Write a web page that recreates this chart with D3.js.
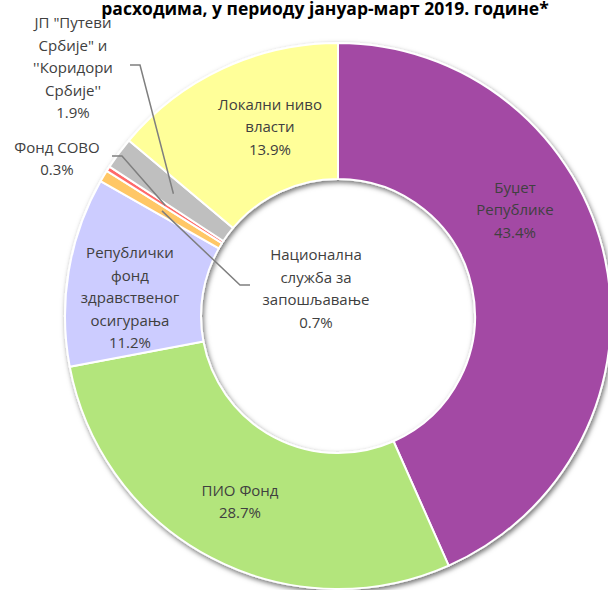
<!DOCTYPE html>
<html lang="sr">
<head>
<meta charset="utf-8">
<style>
  body { margin: 0; background: #fff; }
  svg { font-family: 'Open Sans', sans-serif; }
  .lbl { fill: #404040; font-size: 15px; }
  .title { fill: #000; font-size: 17.5px; font-weight: bold; }
  .leader { fill: none; stroke: #7f7f7f; stroke-width: 1.5px; }
</style>
</head>
<body>
<svg width="608" height="590"></svg>
<script src="https://cdn.jsdelivr.net/npm/d3@7"></script>
<script>
// data, clockwise from 12 o'clock
const categories = ["Буџет Републике", "ПИО Фонд", "Републички фонд здравственог осигурања",
  "Национална служба за запошљавање", "Фонд СОВО",
  "JП \"Путеви Србије\" и ''Коридори Србије''", "Локални ниво власти"];
const values = [43.4, 28.7, 11.2, 0.7, 0.3, 1.9, 13.9];
const labelLines = [
  ["Буџет", "Републике"],
  ["ПИО Фонд"],
  ["Републички", "фонд", "здравственог", "осигурања"],
  ["Национална", "служба за", "запошљавање"],
  ["Фонд СОВО"],
  ["JП \"Путеви", "Србије\" и", "''Коридори", "Србије''"],
  ["Локални ниво", "власти"]
];
const colors = ["#a349a4", "#b3e57c", "#ccccff", "#ffc766", "#ff6b6b", "#bfbfbf", "#ffff99"];
const title = "расходима, у периоду јануар-март 2019. године*";

// layout
const cx = 338, cy = 316, R = 273, r = 137;
const lineH = 22.5;
// label block centres, and where the leader line leaves the label (null = label inside slice)
const labelAnchors = [[515, 209], [240, 501], [130, 297], [316, 288], [57, 158], [73, 67], [270, 126]];
const leaderStart = [null, null, null, [250, 285], [112, 156], [130, 65], null];

const svg = d3.select("svg");

const defs = svg.append("defs");
const f = defs.append("filter").attr("id", "shadow")
    .attr("x", "-10%").attr("y", "-10%").attr("width", "120%").attr("height", "120%");
f.append("feDropShadow")
    .attr("dx", 1.5).attr("dy", 2.5).attr("stdDeviation", 2.5)
    .attr("flood-color", "#000").attr("flood-opacity", 0.55);

const pie = d3.pie().sort(null).value(d => d)(values);
const arc = d3.arc().innerRadius(r).outerRadius(R);

const g = svg.append("g").attr("transform", `translate(${cx},${cy})`);

g.append("g").attr("filter", "url(#shadow)")
  .selectAll("path")
  .data(pie)
  .join("path")
    .attr("d", arc)
    .attr("fill", (d, i) => colors[i])
    .attr("stroke", "#fff")
    .attr("stroke-width", 2)
    .attr("stroke-linejoin", "round");

// leader lines
pie.forEach((d, i) => {
  const s = leaderStart[i];
  if (!s) return;
  const c = arc.centroid(d);
  const end = [c[0] + cx, c[1] + cy];
  const dir = end[0] > s[0] ? 1 : -1;
  const elbow = [s[0] + dir * 10, s[1]];
  svg.append("path")
    .attr("class", "leader")
    .attr("d", d3.line()([s, elbow, end]));
});

// labels
categories.forEach((c, i) => {
  const lines = labelLines[i].concat([values[i].toFixed(1) + "%"]);
  const [x, y] = labelAnchors[i];
  const y0 = y - (lines.length - 1) * lineH / 2;
  const t = svg.append("text")
    .attr("class", "lbl")
    .attr("text-anchor", "middle")
    .attr("x", x).attr("y", y0)
    .attr("dominant-baseline", "central");
  t.append("title").text(c);
  lines.forEach((l, k) => {
    t.append("tspan").attr("x", x).attr("y", y0 + k * lineH).text(l);
  });
});

svg.append("text")
  .attr("class", "title")
  .attr("text-anchor", "middle")
  .attr("x", 325).attr("y", 15)
  .text(title);
</script>
</body>
</html>
